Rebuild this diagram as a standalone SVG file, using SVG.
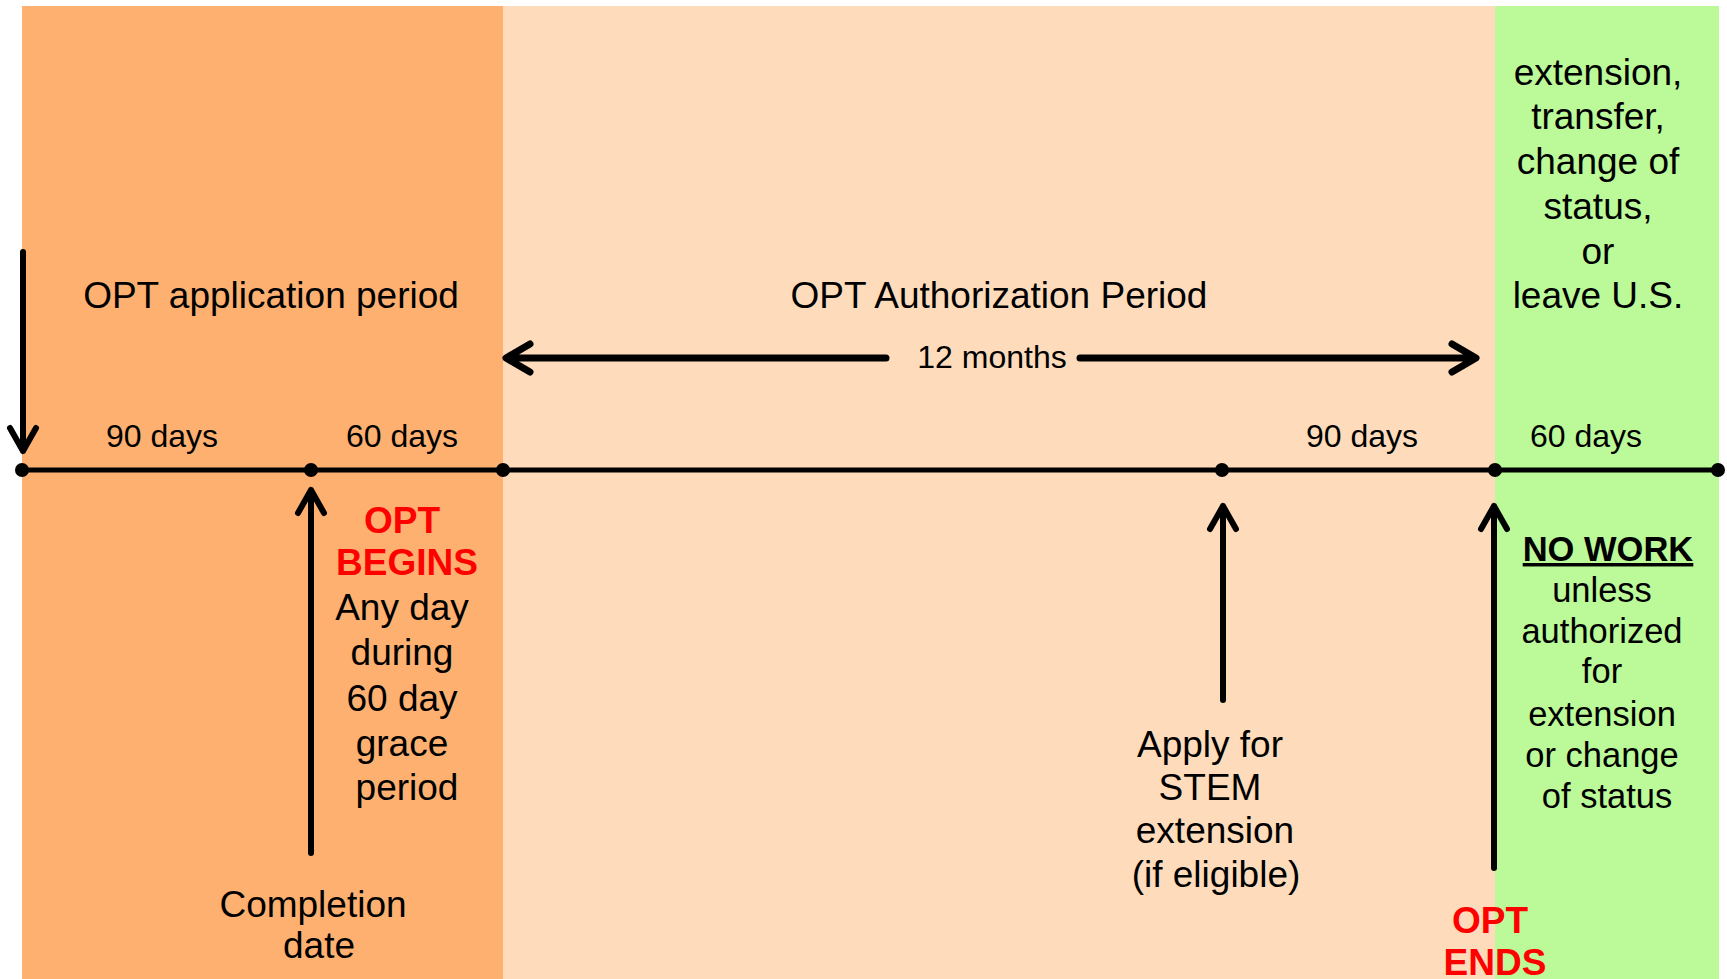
<svg xmlns="http://www.w3.org/2000/svg" width="1727" height="979" viewBox="0 0 1727 979">
<style>
text{font-family:"Liberation Sans",Arial,sans-serif;fill:#000;}
.big{font-size:37px;text-anchor:middle;}
.sm{font-size:32px;text-anchor:middle;}
.mid{font-size:34.5px;text-anchor:middle;}
.red{font-size:37px;font-weight:bold;fill:#FF0000;text-anchor:middle;}
.ln{stroke:#000;fill:none;stroke-linecap:round;stroke-linejoin:round;}
.dot{fill:#000;}
</style>
<rect width="1727" height="979" fill="#fff"/>
<g id="bands">
<rect id="app-band" x="22" y="6" width="481" height="973" fill="#FDB070"/>
<rect id="auth-band" x="503" y="6" width="992" height="973" fill="#FEDCBB"/>
<rect id="grace-band" x="1495" y="6" width="224" height="973" fill="#BBF999"/>
</g>
<g id="connectors">
<line class="ln" x1="22" y1="470" x2="1718" y2="470" stroke-width="5"/>
<path class="ln" d="M23 252 V451 M10 428 L23 451 L36 428" stroke-width="6"/>
<path class="ln" d="M886 358 H507 M530 344 L506 358 L530 372" stroke-width="7"/>
<path class="ln" d="M1080 358 H1475 M1452 344 L1476 358 L1452 372" stroke-width="7"/>
<path class="ln" d="M311 853 V490 M298 513 L311 490 L324 513" stroke-width="6"/>
<path class="ln" d="M1223 700 V506 M1210 529 L1223 506 L1236 529" stroke-width="6"/>
<path class="ln" d="M1494 868 V506 M1481 529 L1494 506 L1507 529" stroke-width="6"/>
<circle class="dot" cx="22" cy="470" r="7"/>
<circle class="dot" cx="311" cy="470" r="7"/>
<circle class="dot" cx="503" cy="470" r="7"/>
<circle class="dot" cx="1222" cy="470" r="7"/>
<circle class="dot" cx="1495" cy="470" r="7"/>
<circle class="dot" cx="1718" cy="470" r="7"/>
</g>
<g id="period-labels">
<text class="big" x="271" y="308">OPT application period</text>
<text class="big" x="999" y="308">OPT Authorization Period</text>
<text class="sm" x="992" y="368">12 months</text>
</g>
<g id="day-labels">
<text class="sm" x="162" y="447">90 days</text>
<text class="sm" x="402" y="447">60 days</text>
<text class="sm" x="1362" y="447">90 days</text>
<text class="sm" x="1586" y="447">60 days</text>
</g>
<g id="green-note">
<text class="big" x="1598" y="85">extension,</text>
<text class="big" x="1598" y="129">transfer,</text>
<text class="big" x="1598" y="174">change of</text>
<text class="big" x="1598" y="219">status,</text>
<text class="big" x="1598" y="264">or</text>
<text class="big" x="1598" y="308">leave U.S.</text>
</g>
<g id="opt-begins">
<text class="red" x="402" y="533">OPT</text>
<text class="red" x="407" y="575">BEGINS</text>
<text class="big" x="402" y="620">Any day</text>
<text class="big" x="402" y="665">during</text>
<text class="big" x="402" y="711">60 day</text>
<text class="big" x="402" y="756">grace</text>
<text class="big" x="407" y="800">period</text>
</g>
<g id="completion">
<text class="big" x="313" y="917">Completion</text>
<text class="big" x="319" y="958">date</text>
</g>
<g id="stem">
<text class="big" x="1210" y="757">Apply for</text>
<text class="big" x="1210" y="800">STEM</text>
<text class="big" x="1215" y="843">extension</text>
<text class="big" x="1216" y="887">(if eligible)</text>
</g>
<g id="no-work">
<text class="mid" x="1608" y="561" font-weight="bold" text-decoration="underline">NO WORK</text>
<text class="mid" x="1602" y="602">unless</text>
<text class="mid" x="1602" y="643">authorized</text>
<text class="mid" x="1602" y="683">for</text>
<text class="mid" x="1602" y="726">extension</text>
<text class="mid" x="1602" y="767">or change</text>
<text class="mid" x="1607" y="808">of status</text>
</g>
<g id="opt-ends">
<text class="red" x="1490" y="933">OPT</text>
<text class="red" x="1495" y="975">ENDS</text>
</g>
</svg>
